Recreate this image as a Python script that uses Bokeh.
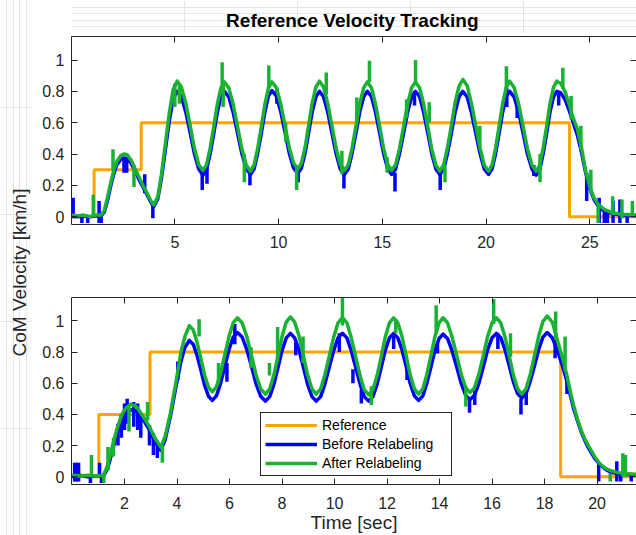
import math
from bokeh.plotting import figure
from bokeh.models import LinearAxis, Range1d, Legend, LegendItem, FixedTicker
from bokeh.layouts import row, column
from bokeh.embed import file_html
from bokeh.resources import INLINE
from bokeh.core.properties import value

# ---------------- data ----------------
TITLE = "Reference Velocity Tracking"
YLABEL = "CoM Velocity [km/h]"
XLABEL = "Time [sec]"
SERIES = ["Reference", "Before Relabeling", "After Relabeling"]

y_ticks = [0, 0.2, 0.4, 0.6, 0.8, 1.0]
y_tick_labels = ["0", "0.2", "0.4", "0.6", "0.8", "1"]
top_x_ticks = [5, 10, 15, 20, 25]
bot_x_ticks = [2, 4, 6, 8, 10, 12, 14, 16, 18, 20]

# reference (step) signals
ref_top_t = [0.0, 1.11, 3.38, 24.02, 27.25]
ref_top_v = [0.0, 0.3, 0.6, 0.0, 0.0]
ref_bot_t = [0.0, 1.02, 2.97, 18.61, 21.5]
ref_bot_v = [0.0, 0.4, 0.8, 0.0, 0.0]

# top panel time base
top_t = [
    0.00, 0.30, 0.60, 0.90, 1.20, 1.45, 1.60, 1.75, 1.90, 2.05, 2.20, 2.40, 2.55, 2.70, 2.90, 3.10, 3.30, 3.50, 3.70, 3.85,
    3.99, 4.18, 4.36, 4.55, 4.74, 4.92,
    5.11, 5.32, 5.53, 5.74, 5.94, 6.15,
    6.36, 6.53, 6.70, 6.88, 7.05, 7.22,
    7.39, 7.60, 7.81, 8.02, 8.23, 8.44,
    8.65, 8.82, 8.99, 9.17, 9.34, 9.51,
    9.68, 9.89, 10.10, 10.31, 10.51, 10.72,
    10.93, 11.10, 11.28, 11.45, 11.62, 11.80,
    11.97, 12.17, 12.37, 12.57, 12.77, 12.97,
    13.17, 13.36, 13.54, 13.73, 13.91, 14.10,
    14.28, 14.48, 14.67, 14.87, 15.06, 15.26,
    15.45, 15.64, 15.83, 16.03, 16.22, 16.41,
    16.60, 16.80, 16.99, 17.19, 17.38, 17.58,
    17.77, 17.96, 18.14, 18.33, 18.51, 18.70,
    18.88, 19.09, 19.29, 19.50, 19.71, 19.91,
    20.12, 20.29, 20.46, 20.63, 20.80, 20.97,
    21.14, 21.35, 21.57, 21.78, 21.99, 22.21,
    22.42, 22.59, 22.75, 22.92, 23.08, 23.25,
    23.41, 23.60, 23.80, 24.00, 24.20, 24.40, 24.60, 24.80, 25.00, 25.20, 25.40, 25.60, 25.80, 26.10, 26.50, 27.25,
]
top_after = [
    0.010, 0.005, 0.010, 0.000, 0.010, 0.010, 0.040, 0.120, 0.210, 0.290, 0.350, 0.390, 0.400, 0.395, 0.360, 0.300, 0.245, 0.190, 0.140, 0.100,
    0.075, 0.128, 0.272, 0.470, 0.668, 0.812,
    0.865, 0.827, 0.722, 0.580, 0.438, 0.333,
    0.295, 0.332, 0.436, 0.578, 0.720, 0.822,
    0.860, 0.822, 0.719, 0.575, 0.433, 0.330,
    0.290, 0.330, 0.434, 0.575, 0.717, 0.822,
    0.860, 0.824, 0.721, 0.582, 0.443, 0.343,
    0.305, 0.341, 0.443, 0.585, 0.725, 0.828,
    0.865, 0.827, 0.722, 0.580, 0.438, 0.333,
    0.295, 0.332, 0.436, 0.578, 0.720, 0.822,
    0.860, 0.822, 0.719, 0.578, 0.436, 0.333,
    0.295, 0.332, 0.436, 0.578, 0.720, 0.822,
    0.860, 0.822, 0.719, 0.575, 0.433, 0.330,
    0.290, 0.332, 0.440, 0.583, 0.730, 0.834,
    0.875, 0.836, 0.726, 0.583, 0.438, 0.330,
    0.290, 0.331, 0.438, 0.578, 0.722, 0.826,
    0.865, 0.825, 0.719, 0.578, 0.436, 0.330,
    0.290, 0.331, 0.438, 0.578, 0.722, 0.826,
    0.865, 0.850, 0.800, 0.720, 0.630, 0.560, 0.440, 0.290, 0.190, 0.120, 0.080, 0.055, 0.040, 0.025, 0.015, 0.010,
]
top_before = [
    0.005, 0.000, 0.005, 0.000, 0.005, 0.005, 0.030, 0.100, 0.190, 0.270, 0.330, 0.365, 0.375, 0.370, 0.340, 0.285, 0.230, 0.180, 0.130, 0.090,
    0.065, 0.114, 0.249, 0.433, 0.616, 0.751,
    0.800, 0.765, 0.667, 0.535, 0.403, 0.305,
    0.265, 0.302, 0.400, 0.533, 0.667, 0.765,
    0.800, 0.765, 0.667, 0.535, 0.403, 0.305,
    0.270, 0.305, 0.403, 0.535, 0.667, 0.770,
    0.805, 0.770, 0.673, 0.540, 0.408, 0.311,
    0.275, 0.310, 0.408, 0.538, 0.668, 0.765,
    0.800, 0.765, 0.667, 0.535, 0.403, 0.305,
    0.270, 0.305, 0.403, 0.535, 0.667, 0.765,
    0.800, 0.765, 0.667, 0.535, 0.403, 0.305,
    0.270, 0.305, 0.403, 0.535, 0.667, 0.765,
    0.800, 0.765, 0.667, 0.535, 0.403, 0.305,
    0.270, 0.305, 0.403, 0.535, 0.667, 0.765,
    0.800, 0.765, 0.667, 0.535, 0.403, 0.305,
    0.270, 0.305, 0.403, 0.535, 0.667, 0.765,
    0.800, 0.765, 0.667, 0.535, 0.403, 0.305,
    0.265, 0.302, 0.400, 0.533, 0.667, 0.765,
    0.800, 0.790, 0.750, 0.680, 0.600, 0.520, 0.410, 0.280, 0.180, 0.110, 0.070, 0.045, 0.030, 0.020, 0.010, 0.005,
]

# noise spikes (time, low, high)
top_after_spk_t = [1.07, 2.02, 3.03, 5.00, 5.22, 7.28, 7.33, 8.35, 9.53, 10.34, 10.87, 12.30, 13.05, 13.77, 14.38, 15.23,
                   16.17, 16.60, 17.26, 18.02, 19.70, 20.98, 22.60, 23.70, 24.10, 24.57, 25.05, 25.40, 26.10, 26.55, 27.05]
top_after_spk_lo = [0.00, 0.30, 0.19, 0.70, 0.72, 0.84, 0.70, 0.22, 0.82, 0.48, 0.17, 0.78, 0.27, 0.60, 0.86, 0.28,
                    0.63, 0.86, 0.60, 0.22, 0.45, 0.82, 0.22, 0.82, 0.62, 0.43, 0.15, -0.04, 0.01, -0.01, 0.00]
top_after_spk_hi = [0.14, 0.43, 0.33, 0.85, 0.84, 0.985, 0.85, 0.40, 0.965, 0.60, 0.32, 0.92, 0.42, 0.76, 0.995, 0.38,
                    0.75, 1.00, 0.73, 0.33, 0.58, 0.96, 0.40, 0.95, 0.77, 0.58, 0.30, 0.08, 0.13, 0.11, 0.10]

top_before_spk_t = [0.10, 0.52, 0.80, 1.35, 1.45, 2.55, 2.68, 3.55, 3.94, 6.32, 6.55, 8.62, 9.92, 10.95, 13.15, 15.61,
                    16.55, 17.79, 21.00, 21.50, 22.30, 23.50, 24.85, 25.45, 25.70, 25.85, 26.12, 26.45, 26.80]
top_before_spk_lo = [-0.01, -0.04, -0.04, -0.04, -0.04, 0.28, 0.28, 0.15, -0.01, 0.17, 0.21, 0.20, 0.72, 0.22, 0.18, 0.16,
                     0.71, 0.17, 0.70, 0.63, 0.26, 0.71, 0.10, -0.04, -0.04, -0.04, -0.04, -0.04, -0.04]
top_before_spk_hi = [0.12, 0.01, 0.01, 0.10, 0.01, 0.38, 0.37, 0.27, 0.10, 0.30, 0.31, 0.30, 0.82, 0.30, 0.28, 0.28,
                     0.80, 0.28, 0.82, 0.72, 0.33, 0.80, 0.28, 0.12, 0.03, 0.03, 0.10, 0.11, 0.02]

# bottom panel time base
bot_t = [
    0.00, 0.30, 0.60, 0.90, 1.20, 1.35, 1.50, 1.70, 1.90, 2.05, 2.23, 2.45, 2.70, 2.95, 3.15, 3.38, 3.55, 3.75, 3.95, 4.15, 4.30,
    4.47, 4.62, 4.76, 4.91, 5.05, 5.20,
    5.34, 5.50, 5.66, 5.82, 5.98, 6.14,
    6.30, 6.48, 6.66, 6.84, 7.01, 7.19,
    7.37, 7.53, 7.69, 7.85, 8.00, 8.16,
    8.32, 8.48, 8.65, 8.81, 8.97, 9.14,
    9.30, 9.47, 9.63, 9.80, 9.97, 10.13,
    10.30, 10.47, 10.63, 10.80, 10.97, 11.13,
    11.30, 11.46, 11.62, 11.78, 11.93, 12.09,
    12.25, 12.41, 12.57, 12.73, 12.88, 13.04,
    13.20, 13.36, 13.51, 13.67, 13.82, 13.98,
    14.13, 14.30, 14.47, 14.65, 14.82, 14.99,
    15.16, 15.33, 15.50, 15.67, 15.83, 16.00,
    16.17, 16.33, 16.49, 16.65, 16.81, 16.97,
    17.13, 17.29, 17.45, 17.62, 17.78, 17.94,
    18.10, 18.30, 18.53, 18.70, 18.85, 19.00, 19.10, 19.25, 19.40, 19.55, 19.70, 19.90, 20.10, 20.30, 20.50, 20.75, 21.00, 21.50,
]
bot_after = [
    0.010, 0.005, 0.010, 0.005, 0.010, 0.070, 0.170, 0.300, 0.400, 0.440, 0.465, 0.450, 0.390, 0.320, 0.250, 0.190, 0.260, 0.410, 0.600, 0.800, 0.900,
    0.970, 0.941, 0.864, 0.758, 0.651, 0.574,
    0.545, 0.577, 0.664, 0.783, 0.901, 0.988,
    1.020, 0.987, 0.898, 0.775, 0.653, 0.563,
    0.530, 0.563, 0.654, 0.778, 0.901, 0.992,
    1.025, 0.992, 0.901, 0.778, 0.654, 0.563,
    0.530, 0.563, 0.653, 0.775, 0.898, 0.987,
    1.020, 0.987, 0.896, 0.773, 0.649, 0.558,
    0.525, 0.558, 0.649, 0.773, 0.896, 0.987,
    1.020, 0.987, 0.898, 0.775, 0.653, 0.563,
    0.530, 0.563, 0.653, 0.775, 0.898, 0.987,
    1.020, 0.988, 0.900, 0.780, 0.660, 0.572,
    0.540, 0.572, 0.660, 0.780, 0.900, 0.988,
    1.020, 0.987, 0.898, 0.775, 0.653, 0.563,
    0.530, 0.563, 0.655, 0.780, 0.905, 0.997,
    1.030, 0.990, 0.850, 0.750, 0.650, 0.530, 0.460, 0.370, 0.295, 0.235, 0.190, 0.130, 0.085, 0.055, 0.040, 0.028, 0.020, 0.015,
]
bot_before = [
    0.000, 0.010, 0.000, 0.005, 0.005, 0.050, 0.140, 0.270, 0.370, 0.410, 0.430, 0.420, 0.370, 0.300, 0.230, 0.170, 0.240, 0.390, 0.570, 0.740, 0.830,
    0.875, 0.849, 0.779, 0.683, 0.586, 0.516,
    0.490, 0.519, 0.599, 0.708, 0.816, 0.896,
    0.925, 0.896, 0.815, 0.705, 0.595, 0.514,
    0.485, 0.514, 0.594, 0.703, 0.811, 0.891,
    0.920, 0.891, 0.811, 0.703, 0.594, 0.514,
    0.485, 0.514, 0.594, 0.703, 0.811, 0.891,
    0.920, 0.891, 0.811, 0.703, 0.594, 0.514,
    0.485, 0.514, 0.594, 0.703, 0.811, 0.891,
    0.920, 0.891, 0.813, 0.705, 0.598, 0.519,
    0.490, 0.518, 0.596, 0.703, 0.809, 0.887,
    0.915, 0.887, 0.810, 0.705, 0.600, 0.523,
    0.495, 0.523, 0.601, 0.708, 0.814, 0.892,
    0.920, 0.892, 0.816, 0.713, 0.609, 0.533,
    0.505, 0.533, 0.610, 0.715, 0.820, 0.897,
    0.925, 0.890, 0.790, 0.700, 0.610, 0.510, 0.440, 0.360, 0.285, 0.225, 0.175, 0.120, 0.080, 0.050, 0.030, 0.020, 0.015, 0.010,
]

bot_after_spk_t = [0.74, 1.21, 1.37, 1.58, 2.17, 2.88, 3.44, 4.84, 5.58, 6.82, 7.52, 7.83, 8.80, 10.30, 11.40, 12.33,
                   13.87, 15.00, 16.06, 16.70, 18.42, 18.78, 20.50, 20.98, 21.08]
bot_after_spk_lo = [0.00, -0.04, 0.04, 0.13, 0.29, 0.36, 0.09, 0.90, 0.60, 0.70, 0.65, 0.74, 0.73, 0.97, 0.46, 0.92,
                    0.93, 0.45, 0.98, 0.77, 0.88, 0.68, -0.03, 0.00, 0.00]
bot_after_spk_hi = [0.14, 0.02, 0.19, 0.25, 0.45, 0.48, 0.20, 1.01, 0.73, 0.83, 0.73, 0.96, 0.90, 1.15, 0.58, 1.01,
                    1.10, 0.58, 1.14, 0.92, 1.06, 0.90, 0.02, 0.15, 0.14]

bot_before_spk_t = [0.10, 0.17, 0.25, 0.70, 1.05, 1.12, 1.75, 1.88, 2.00, 2.10, 2.35, 2.50, 2.62, 2.95, 3.10, 3.25,
                    4.03, 5.90, 6.20, 7.84, 8.52, 10.18, 10.70, 11.02, 12.25, 12.76, 13.92, 15.14, 15.34, 16.22,
                    17.10, 17.30, 18.40, 18.85, 20.06, 20.75, 20.90, 21.30]
bot_before_spk_lo = [-0.03, -0.03, -0.03, -0.04, 0.00, -0.04, 0.20, 0.25, 0.30, 0.34, 0.32, 0.30, 0.25, 0.20, 0.14, 0.12,
                     0.62, 0.61, 0.85, 0.74, 0.78, 0.80, 0.60, 0.47, 0.82, 0.62, 0.79, 0.41, 0.46, 0.82,
                     0.40, 0.46, 0.76, 0.53, -0.03, -0.03, -0.03, -0.03]
bot_before_spk_hi = [0.09, 0.09, 0.09, 0.01, 0.09, 0.01, 0.34, 0.40, 0.47, 0.50, 0.48, 0.47, 0.40, 0.33, 0.28, 0.23,
                     0.74, 0.73, 0.98, 0.82, 0.86, 0.92, 0.69, 0.56, 0.92, 0.72, 0.86, 0.50, 0.55, 0.92,
                     0.50, 0.56, 0.88, 0.62, 0.08, 0.10, 0.03, 0.02]

# ---------------- styling ----------------
FONT = "Liberation Sans"
AX = "#262626"
C_REF = "#FFA500"
C_BEF = "#0000FF"
C_AFT = "#19B233"
LW_REF = 3
LW = 3.5

y_over = {k: v for k, v in zip(y_ticks, y_tick_labels)}


def strip(width, height):
    s = figure(width=width, height=height, x_range=Range1d(0, 1), y_range=Range1d(0, 1),
               output_backend="svg", toolbar_location=None, min_border=0, title=None,
               x_axis_location=None, y_axis_location=None)
    s.outline_line_color = None
    s.border_fill_color = "white"
    s.background_fill_color = "white"
    return s


def panel(width, height, xr, yr, b_top, b_bot, xticks, x_standoff):
    p = figure(width=width, height=height, x_range=Range1d(*xr), y_range=Range1d(*yr),
               output_backend="svg", toolbar_location=None, title=None,
               min_border_left=39, min_border_right=0, min_border_top=b_top, min_border_bottom=b_bot)
    p.outline_line_color = None
    p.xgrid.visible = False
    p.ygrid.visible = False
    p.background_fill_color = "white"
    p.border_fill_color = "white"
    top_ax = LinearAxis()
    right_ax = LinearAxis()
    p.add_layout(top_ax, "above")
    p.add_layout(right_ax, "right")
    bx = p.below[0]
    ly = p.left[0]
    for ax, ticks, so in ((bx, xticks, x_standoff), (top_ax, xticks, 0), (ly, y_ticks, 7), (right_ax, y_ticks, 0)):
        ax.ticker = FixedTicker(ticks=ticks)
        ax.minor_tick_line_color = None
        ax.major_tick_in = 6
        ax.major_tick_out = 0
        ax.axis_line_color = AX
        ax.axis_line_width = 1
        ax.major_tick_line_color = AX
        ax.major_label_text_font = FONT
        ax.major_label_text_font_size = "16px"
        ax.major_label_text_color = AX
        ax.major_label_standoff = so
    for ax in (top_ax, right_ax):
        ax.major_label_text_font_size = "0px"
        ax.major_label_text_color = None
        ax.major_label_text_alpha = 0
    ly.major_label_overrides = y_over
    return p, bx


# title strip (33 px)
pt = strip(604, 33)
pt.text(x=[0.497], y=[0.391], text=[TITLE], text_align="center", text_baseline="middle",
        text_font=value(FONT), text_font_size="19px", text_font_style="bold", text_color="black")

# top panel (frame 36..224)
p1, bx1 = panel(604, 228, (0.02, 27.25), (-0.05, 1.15), 3, 37, top_x_ticks, 11)
p1.step(ref_top_t, ref_top_v, mode="after", line_color=C_REF, line_width=LW_REF)
p1.line(top_t, top_before, line_color=C_BEF, line_width=LW, line_join="round")
p1.segment(x0=top_before_spk_t, y0=top_before_spk_lo, x1=top_before_spk_t, y1=top_before_spk_hi,
           line_color=C_BEF, line_width=LW)
p1.line(top_t, top_after, line_color=C_AFT, line_width=LW, line_join="round")
p1.segment(x0=top_after_spk_t, y0=top_after_spk_lo, x1=top_after_spk_t, y1=top_after_spk_hi,
           line_color=C_AFT, line_width=LW)

# bottom panel (frame 297..485), x label inside its axis panel
p2, bx2 = panel(604, 274, (-0.02, 21.5), (-0.05, 1.15), 36, 51, bot_x_ticks, 12)
bx2.axis_label = XLABEL
bx2.axis_label_text_font = FONT
bx2.axis_label_text_font_size = "19px"
bx2.axis_label_text_font_style = "normal"
bx2.axis_label_text_color = AX
bx2.axis_label_standoff = 0

r_ref = p2.step(ref_bot_t, ref_bot_v, mode="after", line_color=C_REF, line_width=LW_REF)
r_bef = p2.line(bot_t, bot_before, line_color=C_BEF, line_width=LW, line_join="round")
p2.segment(x0=bot_before_spk_t, y0=bot_before_spk_lo, x1=bot_before_spk_t, y1=bot_before_spk_hi,
           line_color=C_BEF, line_width=LW)
r_aft = p2.line(bot_t, bot_after, line_color=C_AFT, line_width=LW, line_join="round")
p2.segment(x0=bot_after_spk_t, y0=bot_after_spk_lo, x1=bot_after_spk_t, y1=bot_after_spk_hi,
           line_color=C_AFT, line_width=LW)

legend = Legend(items=[LegendItem(label=SERIES[0], renderers=[r_ref]),
                       LegendItem(label=SERIES[1], renderers=[r_bef]),
                       LegendItem(label=SERIES[2], renderers=[r_aft])],
                location=(189, 8), orientation="vertical",
                border_line_color=AX, border_line_width=1, border_line_alpha=1,
                background_fill_color="white", background_fill_alpha=1,
                label_text_font=FONT, label_text_font_size="14px", label_text_font_style="normal",
                label_text_color="black",
                glyph_width=52, glyph_height=16, label_height=16, label_width=125, label_standoff=5,
                padding=4, spacing=3, margin=0)
p2.add_layout(legend)

# shared y label strip
p0 = strip(32, 535)
p0.text(x=[0.58], y=[0.4916], text=[YLABEL], angle=math.pi / 2, text_align="center",
        text_baseline="middle", text_font=value(FONT), text_font_size="19px", text_color=AX)

layout = row(p0, column(pt, p1, p2))
open("out.html", "w").write(file_html(layout, INLINE))
